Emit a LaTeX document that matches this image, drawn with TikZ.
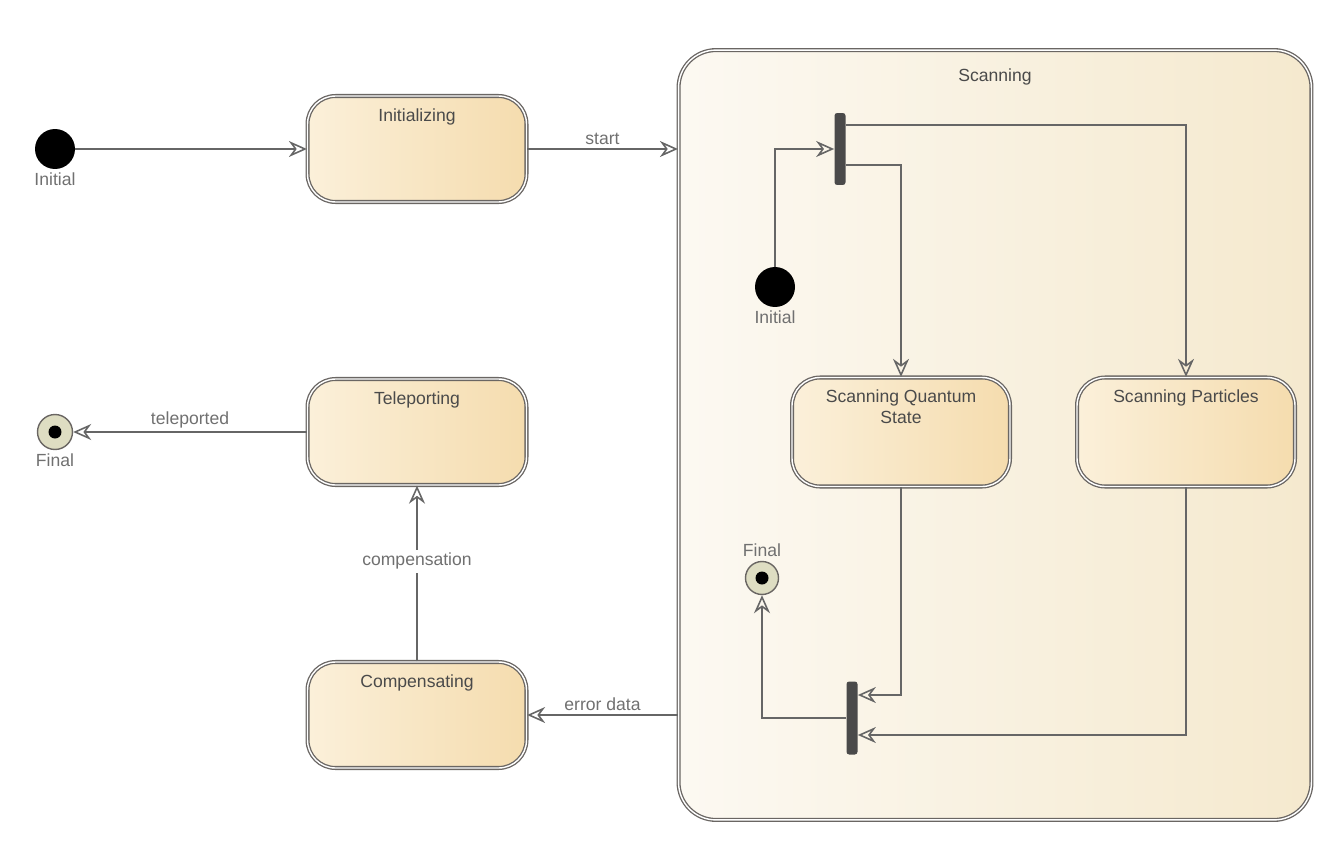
\documentclass[tikz,border=0pt]{standalone}
\usepackage{fontspec}
\setmainfont{Liberation Sans}
\usetikzlibrary{arrows.meta,positioning,calc}
\definecolor{edgegray}{HTML}{6A6663}
\definecolor{linegray}{HTML}{666666}
\definecolor{textgray}{HTML}{4A4A4A}
\definecolor{taggray}{HTML}{707070}
\definecolor{bargray}{HTML}{4A4A4A}
\definecolor{peachlite}{HTML}{FBF0DA}
\definecolor{peach}{HTML}{F5DCAE}
\definecolor{creamlite}{HTML}{FCF9F2}
\definecolor{cream}{HTML}{F5E9CE}
\definecolor{finalfill}{HTML}{DEDDC2}

\begin{document}
\begin{tikzpicture}[
  x=0.02cm, y=-0.02cm,
  font=\fontsize{10}{12}\selectfont,
  state/.style={rounded corners=0.56cm,draw=edgegray,double=white,double distance=0.8pt,line width=0.75pt,left color=peachlite,right color=peach,minimum width=4.38cm,minimum height=2.12cm},
  composite/.style={rounded corners=0.75cm,draw=edgegray,double=white,double distance=0.8pt,line width=0.75pt,left color=creamlite,right color=cream,minimum width=12.66cm,minimum height=15.4cm},
  title/.style={anchor=north,yshift=-4pt,text=textgray,align=center},
  initial/.style={circle,fill=black,minimum size=0.8cm,inner sep=0pt},
  final/.style={circle,draw=edgegray,fill=finalfill,line width=0.8pt,minimum size=0.7cm,inner sep=0pt,path picture={\fill[black] (path picture bounding box.center) circle (0.13cm);}},
  bar/.style={rectangle,fill=bargray,rounded corners=1.5pt,minimum width=0.22cm,minimum height=1.44cm,inner sep=0pt},
  tag/.style={text=taggray,inner sep=2pt},
  arr/.style={-{Stealth[open,length=3.6mm,width=3.2mm]},line width=0.9pt,draw=linegray}
]
\useasboundingbox (0,0) rectangle (1342,855);

\node[composite,label={[title,yshift=-0.12cm]north:Scanning}] (scanning) at (995,435) {};

\node[initial,label={[tag]below:Initial}] (init) at (55,149) {};
\node[state,label={[title]north:Initializing}] (initializing) at (417,149) {};
\node[state,label={[title]north:Teleporting}] (teleporting) at (417,432) {};
\node[state,label={[title]north:Compensating}] (compensating) at (417,715) {};
\node[final,label={[tag]below:Final}] (final) at (55,432) {};

\node[bar] (fork) at (840,149) {};
\node[initial,label={[tag]below:Initial}] (scaninit) at (775,287) {};
\node[state,minimum width=4.36cm,minimum height=2.18cm,label={[title]north:Scanning Quantum\\State}] (quantum) at (901,432) {};
\node[state,minimum width=4.36cm,minimum height=2.18cm,label={[title]north:Scanning Particles}] (particles) at (1186,432) {};
\node[bar,minimum height=1.46cm] (join) at (852,718) {};
\node[final,minimum size=0.66cm,label={[tag]above:Final}] (scanfinal) at (762,578) {};

\draw[arr] (init)--(initializing);
\draw[arr] (initializing)--node[tag,above]{start}(initializing -| scanning.west);
\draw[arr] (scaninit) |- (fork);
\draw[arr] ([yshift=0.48cm]fork.east) -| (particles);
\draw[arr] ([yshift=-0.32cm]fork.east) -| (quantum);
\draw[arr] (quantum) |- ([yshift=0.46cm]join.east);
\draw[arr] (particles) |- ([yshift=-0.34cm]join.east);
\draw[arr] (join) -| (scanfinal);
\draw[arr] (compensating -| scanning.west)--node[tag,above]{error data}(compensating);
\draw[arr] (compensating)--node[tag,fill=white,pos=.57]{compensation}(teleporting);
\draw[arr] (teleporting)--node[tag,above]{teleported}(final);
\end{tikzpicture}
\end{document}
